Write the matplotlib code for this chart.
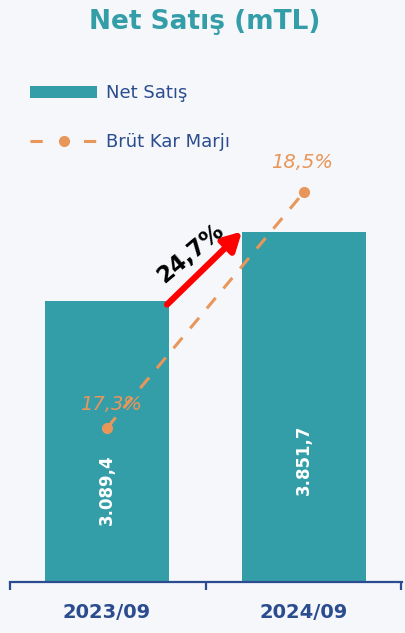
import numpy as np
import matplotlib
matplotlib.use("Agg")
import matplotlib.pyplot as plt
from matplotlib.patches import Patch
from matplotlib.lines import Line2D

# data
periods = ["2023/09", "2024/09"]
net_sales = [3089.4, 3851.7]
net_sales_labels = ["3.089,4", "3.851,7"]
gross_margin = [17.3, 18.5]
margin_labels = ["17,3%", "18,5%"]
growth_label = "24,7%"

TEAL = "#339da8"
ORANGE = "#e8965a"
NAVY = "#2b4c8e"
BG = "#f5f7fb"

plt.rcParams["font.family"] = ["DejaVu Sans"]

fig = plt.figure(figsize=(4.06, 6.33), dpi=100, facecolor=BG)
ax = fig.add_axes([10 / 406, 51 / 633, 392 / 406, 522 / 633])
ax.set_facecolor(BG)

x = np.arange(len(periods))
bar_w = 0.63
bars = ax.bar(x, net_sales, width=bar_w, color=TEAL, zorder=2)
ax.set_xlim(-0.492, 1.497)
ax.set_ylim(0, 5737)

for xi, v, lab in zip(x, net_sales, net_sales_labels):
    ax.text(xi, v * (0.33 if xi == 0 else 0.35), lab, rotation=90, ha="center", va="center",
            color="white", fontsize=12, fontweight="bold", zorder=5)

# spines / ticks
for s in ["top", "right", "left"]:
    ax.spines[s].set_visible(False)
ax.spines["bottom"].set_color(NAVY)
ax.spines["bottom"].set_linewidth(1.6)
ax.set_yticks([])
ax.set_xticks([-0.492, 0.5, 1.49])
ax.set_xticklabels([])
ax.tick_params(axis="x", direction="out", length=6, width=1.6, color=NAVY)
for xi, lab in zip(x, periods):
    ax.text(xi, -0.058, lab, transform=ax.get_xaxis_transform(), ha="center", va="center",
            color=NAVY, fontsize=14, fontweight="bold")

# growth arrow
x0, x1 = 0 + bar_w / 2, 1 - bar_w / 2
ax.annotate("", xy=(x1, net_sales[1]), xytext=(x0 - 0.01, net_sales[0] - 40),
            arrowprops=dict(arrowstyle="-|>,head_length=1.1,head_width=0.6", color="#ff0000",
                            lw=4.5, shrinkA=0, shrinkB=0), zorder=6)
ax.text((x0 + x1) / 2 - 0.075, (net_sales[0] + net_sales[1]) / 2 + 140, growth_label,
        rotation=40, ha="center", va="center", fontsize=16.5, fontweight="bold",
        color="black", zorder=6)

# margin line on secondary axis
ax2 = ax.twinx()
ax2.set_ylim(16.517, 19.171)
ax2.axis("off")
ax2.plot(x, gross_margin, color=ORANGE, lw=2.2, dashes=(4.5, 4), marker="o", markersize=7,
         zorder=4)
offsets = [(0.02, 0.12), (-0.01, 0.15)]
for xi, v, lab, (dx, dy) in zip(x, gross_margin, margin_labels, offsets):
    ax2.text(xi + dx, v + dy, lab, ha="center", va="center", color=ORANGE, fontsize=14,
             fontstyle="italic")

# legend
handles = [
    Patch(facecolor=TEAL, edgecolor="none"),
    Line2D([0], [0], color=ORANGE, lw=2.2, dashes=(4, 13.5), marker="o", markersize=7),
]
fig.legend(handles, ["Net Satış", "Brüt Kar Marjı"], loc="upper left",
           bbox_to_anchor=(14 / 406, 1 - 68 / 633), frameon=False, fontsize=13,
           labelcolor=NAVY, handlelength=3.7, handleheight=0.7, labelspacing=1.7,
           handletextpad=0.5)

fig.text(0.505, 0.966, "Net Satış (mTL)", ha="center", va="center", color=TEAL,
         fontsize=19, fontweight="bold")

fig.savefig("out.png", dpi=100, facecolor=BG)
